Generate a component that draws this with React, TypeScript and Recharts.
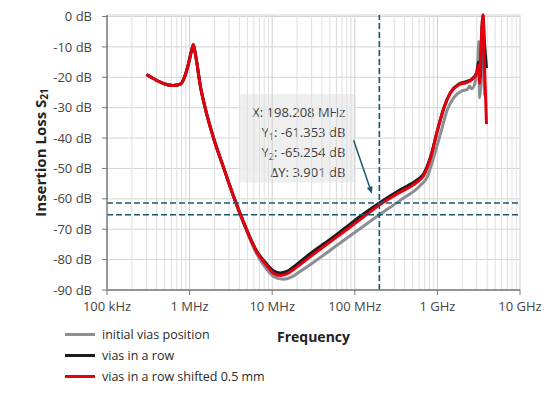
import * as React from "react";
import {
	LineChart,
	Line,
	XAxis,
	YAxis,
	CartesianGrid,
	ReferenceLine,
	ReferenceArea,
	Legend,
	Label,
} from "recharts";

// ─── Axes ──────────────────────────────────────────────────────────────────

const xTicks = [0.1, 1, 10, 100, 1000, 10000]; // MHz
const xTickLabels = ["100 kHz", "1 MHz", "10 MHz", "100 MHz", "1 GHz", "10 GHz"];
const yTicks = [-90, -80, -70, -60, -50, -40, -30, -20, -10, 0];
const minorSteps = [2, 3, 4, 5, 6, 7, 8, 9];

// ─── Series (frequency in MHz, S21 in dB) ──────────────────────────────────

const grayFreq = [
	0.3, 0.4, 0.5, 0.63, 0.77, 0.88, 0.97, 1.05, 1.11, 1.16, 1.22, 1.34, 1.54,
	1.94, 2.57, 3.55, 4.47, 6.5, 8.6, 10.5, 13.7, 17, 22, 29, 50, 73, 120, 198,
	355, 620, 750, 900, 1100, 1300, 1580, 1980, 2300, 2450, 2600, 2900, 3100,
	3170, 3250, 3400, 3550, 3650, 3750,
];
const grayDb = [
	-19.1, -21, -22.2, -22.7, -22.3, -19.5, -15.5, -11.5, -9.3, -11.5, -15,
	-22.4, -30, -39.8, -49.6, -60.5, -67.8, -78.2, -83.2, -85.6, -86.5, -85.8,
	-83.8, -81.6, -77, -73.7, -69.5, -65.25, -60.5, -55.6, -52.9, -46.4, -38.2,
	-31.1, -26.7, -24.5, -24, -22.9, -23.8, -21, -14, -8.2, -26.7, -18, -1, -20,
	-26,
];

const blackFreq = [
	0.3, 0.4, 0.5, 0.63, 0.77, 0.88, 0.97, 1.05, 1.11, 1.16, 1.22, 1.34, 1.54,
	1.94, 2.57, 3.55, 4.47, 6.5, 8.6, 10.5, 12.5, 15, 20, 29, 50, 73, 120, 198,
	355, 566, 680, 830, 1000, 1200, 1440, 1820, 2190, 2630, 3000, 3150, 3300,
	3450, 3570, 3700, 3850, 3930,
];
const blackDb = [
	-19.1, -21, -22.2, -22.7, -22.3, -19.5, -15.5, -11.5, -9.3, -11.5, -15,
	-22.4, -30, -39.8, -49.6, -60.5, -67.5, -77.2, -81.5, -83.8, -84.4, -83.9,
	-81.5, -78, -73.4, -70, -65.5, -61.35, -57, -53.8, -51.8, -46, -37.5, -30,
	-25, -22.2, -21.5, -20.5, -18.3, -15, -20, -5, 0.5, -8, -14, -17,
];

const redFreq = [
	0.3, 0.4, 0.5, 0.63, 0.77, 0.88, 0.97, 1.05, 1.11, 1.16, 1.22, 1.34, 1.54,
	1.94, 2.57, 3.55, 4.47, 6.5, 8.6, 10.5, 12.5, 15, 20, 29, 50, 73, 120, 198,
	355, 566, 680, 830, 1000, 1200, 1440, 1820, 2190, 2630, 3000, 3150, 3250,
	3350, 3450, 3570, 3700, 3850, 3930,
];
const redDb = [
	-19.1, -21, -22.2, -22.7, -22.3, -19.5, -15.5, -11.5, -9.3, -11.5, -15,
	-22.4, -30, -39.8, -49.6, -60.5, -67.5, -77.5, -82, -84.6, -85.2, -84.7,
	-82.4, -79, -74.2, -70.9, -66.5, -62, -57.8, -54.5, -52.4, -46.4, -37.6,
	-30, -25.1, -22.4, -21.8, -20.7, -18.5, -16, -22, -12, -4, 0.5, -15, -28,
	-35.4,
];

const seriesNames = [
	"initial vias position",
	"vias in a row",
	"vias in a row shifted 0.5 mm",
];
const seriesColors = ["#8b8e92", "#1c1c20", "#e3000f"];

// ─── Cursor annotation ─────────────────────────────────────────────────────

const markerX = 198.208;
const markerY1 = -61.353;
const markerY2 = -65.254;
const boxFreq = [4.09, 101.4];
const boxDb = [-25.5, -54.6];
const arrowFrom = { x: 96.7, y: -40.7 };
const arrowTo = { x: 161, y: -58.3 };

const toPoints = (f: number[], db: number[]) =>
	f.map((v, i) => ({ f: v, db: db[i] }));

const grayData = toPoints(grayFreq, grayDb);
const blackData = toPoints(blackFreq, blackDb);
const redData = toPoints(redFreq, redDb);

const minorGrid = xTicks
	.slice(0, -1)
	.flatMap((d) => minorSteps.map((k) => d * k));

const CURSOR = "#1b5870";
const FONT = "'Open Sans', sans-serif";

function ArrowShape(props: any) {
	const { x1, y1, x2, y2 } = props;
	const a = Math.atan2(y2 - y1, x2 - x1);
	const len = 7;
	const w = 3;
	const bx = x2 - len * Math.cos(a);
	const by = y2 - len * Math.sin(a);
	const pts = [
		[x2, y2],
		[bx - w * Math.sin(a), by + w * Math.cos(a)],
		[bx + w * Math.sin(a), by - w * Math.cos(a)],
	]
		.map((p) => p.join(","))
		.join(" ");
	return (
		<g>
			<line x1={x1} y1={y1} x2={bx} y2={by} stroke={CURSOR} strokeWidth={1.5} />
			<polygon points={pts} fill={CURSOR} />
		</g>
	);
}

function CursorText(props: any) {
	const { x, y, width } = props.viewBox;
	const right = x + width - 10;
	const sub = (n: string) => (
		<tspan fontSize={9} dy={3}>
			{n}
		</tspan>
	);
	return (
		<g fontFamily={FONT} fontSize={13} fill="#3c3c3c" textAnchor="end">
			<text x={right} y={y + 23}>
				{`X: ${markerX.toFixed(3)} MHz`}
			</text>
			<text x={right} y={y + 43}>
				Y{sub("1")}
				<tspan dy={-3}>{`: ${markerY1.toFixed(3)} dB`}</tspan>
			</text>
			<text x={right} y={y + 63}>
				Y{sub("2")}
				<tspan dy={-3}>{`: ${markerY2.toFixed(3)} dB`}</tspan>
			</text>
			<text x={right} y={y + 83}>
				{`ΔY: ${(markerY1 - markerY2).toFixed(3)} dB`}
			</text>
		</g>
	);
}

function LegendContent(props: any) {
	const payload = props.payload ?? [];
	return (
		<div style={{ fontFamily: FONT, fontSize: 12.5, color: "#2a2a2a" }}>
			{payload.map((item: any) => (
				<div
					key={item.value}
					style={{ display: "flex", alignItems: "center", height: 21 }}
				>
					<span
						style={{
							display: "inline-block",
							width: 30,
							height: 3,
							background: item.color,
							marginRight: 7,
						}}
					/>
					<span>{item.value}</span>
				</div>
			))}
		</div>
	);
}

export default function App() {
	const tickStyle = { fontSize: 13, fill: "#444", fontFamily: FONT };
	return (
		<div
			style={{
				position: "absolute",
				left: 0,
				top: 0,
				width: 550,
				height: 395,
				background: "#fff",
				fontFamily: FONT,
			}}
		>
			<LineChart
				width={550}
				height={395}
				margin={{ top: 15, right: 30, left: 0, bottom: 75 }}
			>
				<CartesianGrid vertical={false} stroke="#d4d4d4" />
				{minorGrid.map((f) => (
					<ReferenceLine
						key={`m${f}`}
						x={f}
						stroke="#dedede"
						strokeWidth={1}
						ifOverflow="visible"
					/>
				))}
				{xTicks.slice(1).map((f) => (
					<ReferenceLine key={`M${f}`} x={f} stroke="#cfcfcf" />
				))}
				<XAxis
					dataKey="f"
					type="number"
					scale="log"
					domain={[0.1, 10000]}
					ticks={xTicks}
					allowDataOverflow
					height={30}
					tickSize={5}
					tickMargin={7}
					tick={tickStyle}
					tickFormatter={(v: number) => xTickLabels[xTicks.indexOf(v)] ?? ""}
					axisLine={{ stroke: "#777", strokeWidth: 1.5 }}
					tickLine={{ stroke: "#777" }}
				>
					<Label
						content={(p: any) => (
							<text
								x={p.viewBox.x + p.viewBox.width / 2}
								y={p.viewBox.y + 52}
								textAnchor="middle"
								fontFamily={FONT}
								fontWeight={700}
								fontSize={14}
								fill="#222"
							>
								Frequency
							</text>
						)}
					/>
				</XAxis>
				<YAxis
					type="number"
					domain={[-90, 0]}
					ticks={yTicks}
					width={107}
					tickSize={5}
					tickMargin={10}
					tick={tickStyle}
					tickFormatter={(v: number) => `${v} dB`}
					axisLine={{ stroke: "#777", strokeWidth: 1.5 }}
					tickLine={{ stroke: "#777" }}
				>
					<Label
						content={(p: any) => {
							const cx = p.viewBox.x + 40;
							const cy = p.viewBox.y + p.viewBox.height / 2;
							return (
								<text
									x={cx}
									y={cy}
									transform={`rotate(-90 ${cx} ${cy})`}
									textAnchor="middle"
									dominantBaseline="central"
									fontFamily={FONT}
									fontWeight={700}
									fontSize={15}
									fill="#222"
								>
									Insertion Loss S
									<tspan fontSize={10} dy={4}>
										21
									</tspan>
								</text>
							);
						}}
					/>
				</YAxis>
				<ReferenceArea
					x1={boxFreq[0]}
					x2={boxFreq[1]}
					y1={boxDb[0]}
					y2={boxDb[1]}
					fill="#eeeeee"
					fillOpacity={0.92}
					strokeOpacity={0}
					label={{ content: (p: any) => <CursorText {...p} /> }}
				/>
				<Line
					data={grayData}
					dataKey="db"
					name={seriesNames[0]}
					type="monotone"
					stroke={seriesColors[0]}
					strokeWidth={3}
					dot={false}
					legendType="line"
					isAnimationActive={false}
				/>
				<Line
					data={blackData}
					dataKey="db"
					name={seriesNames[1]}
					type="monotone"
					stroke={seriesColors[1]}
					strokeWidth={3}
					dot={false}
					legendType="line"
					isAnimationActive={false}
				/>
				<Line
					data={redData}
					dataKey="db"
					name={seriesNames[2]}
					type="monotone"
					stroke={seriesColors[2]}
					strokeWidth={3}
					dot={false}
					legendType="line"
					isAnimationActive={false}
				/>
				<ReferenceLine
					x={markerX}
					stroke={CURSOR}
					strokeWidth={1.6}
					strokeDasharray="6 3"
				/>
				<ReferenceLine
					y={markerY1}
					stroke={CURSOR}
					strokeWidth={1.6}
					strokeDasharray="6 3"
				/>
				<ReferenceLine
					y={markerY2}
					stroke={CURSOR}
					strokeWidth={1.6}
					strokeDasharray="6 3"
				/>
				<ReferenceLine
					segment={[arrowFrom, arrowTo]}
					shape={(p: any) => <ArrowShape {...p} />}
				/>
				<Legend
					layout="vertical"
					align="center"
					verticalAlign="middle"
					content={(p: any) => <LegendContent {...p} />}
					wrapperStyle={{ left: 65, top: 324, width: 260, height: 66 }}
				/>
			</LineChart>
		</div>
	);
}
